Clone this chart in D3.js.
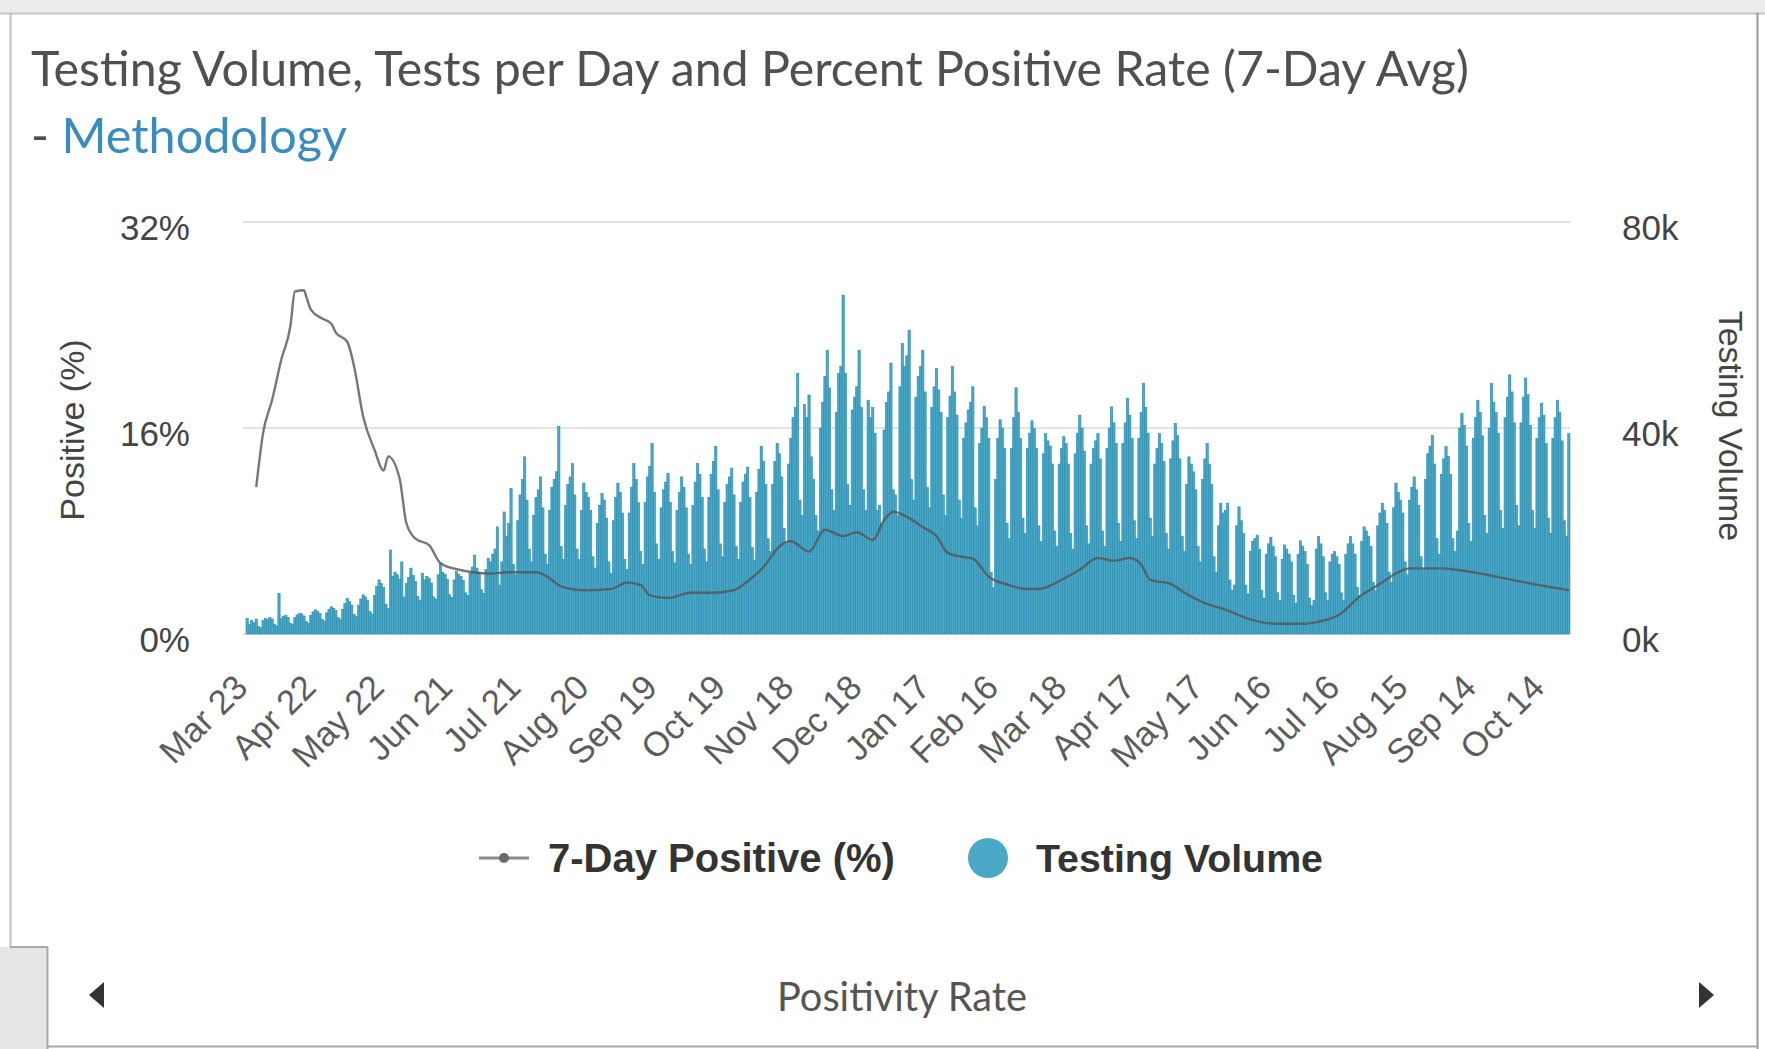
<!DOCTYPE html>
<html><head><meta charset="utf-8">
<script src="https://cdn.jsdelivr.net/npm/d3@7"></script>
<style>html,body{margin:0;padding:0;background:#fff;overflow:hidden}svg{display:block}</style>
</head><body>
<svg id="c" width="1765" height="1049"></svg>
<script>
// ---------------- DATA ----------------
const startDate = "2020-03-23"; // first day (index 0)
const tickDays = [0,30,60,90,120,150,180,210,240,270,300,330,360,390,420,450,480,510,540,570];
const tickLabels = ["Mar 23","Apr 22","May 22","Jun 21","Jul 21","Aug 20","Sep 19","Oct 19","Nov 18","Dec 18","Jan 17","Feb 16","Mar 18","Apr 17","May 17","Jun 16","Jul 16","Aug 15","Sep 14","Oct 14"];
const leftTicks = [0,16,32];
const rightTicks = [0,40,80];
// daily testing volume, thousands of tests (one row per week, Mon..Sun)
const testVolumeK = [
3.0,1.8,2.6,2.2,2.9,1.5,1.2,
2.6,3.0,2.8,3.2,2.9,1.9,1.6,
7.9,3.1,3.4,3.6,3.2,2.1,1.9,
3.2,3.7,4.0,3.9,3.5,2.4,2.1,
3.6,4.3,4.7,4.4,4.0,2.8,2.5,
4.1,4.8,5.3,5.0,4.6,3.2,2.8,
4.8,5.9,6.9,6.3,5.6,3.8,3.4,
5.5,6.8,7.6,7.2,6.5,4.4,3.9,
7.5,9.2,10.5,9.8,9.0,5.8,5.0,
16.3,11.2,12.0,11.5,10.6,14.0,7.2,
9.8,11.0,12.8,11.4,10.2,7.3,6.6,
11.8,10.5,11.2,10.8,9.9,7.2,6.8,
11.5,13.8,12.0,11.6,10.6,7.6,7.1,
10.5,12.1,11.6,11.2,10.4,8.0,7.5,
11.8,13.0,15.3,12.8,12.0,8.6,7.9,
12.5,14.7,14.0,15.5,16.5,20.8,9.5,
14.0,23.7,19.0,21.5,28.3,13.5,11.5,
22.0,27.0,30.0,34.4,26.0,16.5,14.0,
23.0,26.5,28.0,30.5,24.5,15.5,13.5,
24.0,28.5,30.0,31.5,40.3,17.0,14.5,
25.0,29.0,30.5,33.1,27.0,16.5,14.5,
24.0,29.3,27.5,26.5,24.0,15.0,12.8,
21.5,25.0,27.3,26.0,22.5,14.0,11.8,
22.0,26.5,29.3,27.5,23.5,14.5,12.5,
23.5,28.5,33.1,30.0,25.5,16.0,13.5,
25.5,30.5,32.5,37.0,27.5,17.5,14.5,
24.5,28.0,29.5,31.2,25.5,16.0,13.8,
24.0,27.5,30.5,28.5,24.5,15.5,13.5,
25.0,29.5,33.1,31.0,26.5,16.5,14.0,
26.5,31.0,33.5,36.4,28.0,17.5,15.0,
25.5,29.0,30.5,32.2,27.0,17.0,14.5,
25.5,29.5,31.0,32.4,26.5,16.8,14.3,
27.5,32.0,36.4,33.5,29.0,18.5,16.0,
29.0,33.5,37.0,35.0,30.5,20.5,17.5,
33.0,38.0,42.0,44.0,50.6,26.0,23.0,
44.6,42.0,46.4,34.4,30.0,23.0,20.0,
40.0,45.0,50.0,55.1,47.8,28.0,24.0,
43.0,50.6,52.0,65.8,50.6,29.0,25.0,
43.5,46.0,48.0,55.1,44.0,28.0,24.0,
45.4,42.0,44.0,39.0,24.0,25.0,21.5,
39.6,45.0,47.0,52.6,28.0,27.0,23.0,
48.0,56.4,52.0,54.0,59.0,30.0,26.0,
46.0,50.0,52.0,55.1,47.0,28.5,24.5,
44.0,48.0,51.6,47.4,43.0,27.0,23.0,
42.0,46.2,52.0,47.0,42.5,26.0,22.5,
38.0,41.0,43.5,45.0,48.0,24.5,21.0,
37.0,40.0,44.2,42.0,38.0,12.0,9.0,
30.0,38.0,41.6,40.0,36.0,21.5,18.5,
36.0,42.0,47.8,43.0,38.0,22.5,19.5,
36.0,39.0,41.4,39.9,36.0,21.0,18.0,
35.0,38.9,37.5,36.5,33.0,20.0,17.0,
33.0,36.0,38.3,37.0,33.0,19.5,16.5,
35.0,39.0,42.5,40.0,35.5,21.0,17.5,
33.0,36.0,37.5,38.9,34.0,20.0,17.0,
36.0,40.0,44.1,41.0,37.0,21.5,18.0,
37.0,41.0,45.8,42.5,38.0,22.0,18.5,
38.0,43.0,48.7,44.0,39.0,22.5,19.0,
33.0,36.0,38.9,37.0,33.5,19.5,16.5,
34.0,37.5,40.9,38.5,34.0,19.0,16.0,
29.0,34.4,33.0,31.5,28.0,17.0,14.0,
30.0,34.0,37.0,33.0,29.0,15.0,12.0,
21.0,25.4,23.5,24.0,25.4,10.5,8.5,
9.5,21.0,24.7,22.0,19.5,9.5,7.8,
16.0,18.0,18.5,19.2,16.5,8.5,7.0,
15.5,17.5,18.8,17.0,15.0,8.0,6.5,
14.5,17.3,16.5,15.5,14.0,7.5,6.0,
15.5,18.1,17.0,16.0,13.5,7.0,5.5,
6.5,16.5,18.9,17.5,15.0,8.0,6.5,
14.0,15.5,16.0,15.0,13.5,8.0,6.5,
15.5,17.5,18.9,17.5,15.5,9.0,7.5,
18.0,20.8,20.0,19.0,17.0,10.0,8.5,
21.0,23.5,25.4,24.0,21.5,12.0,10.0,
24.5,29.3,27.5,26.0,23.5,14.0,11.5,
26.0,28.5,30.5,28.0,25.0,15.0,12.5,
30.0,35.0,36.5,38.6,33.0,18.5,15.5,
31.0,34.0,36.4,34.5,31.0,18.5,16.0,
20.0,40.0,42.8,40.5,36.5,21.5,18.0,
38.0,42.0,45.4,43.0,38.5,23.0,19.5,
40.0,48.7,45.0,43.0,39.0,24.0,20.5,
42.0,46.0,50.3,47.0,41.0,25.0,21.0,
41.0,46.0,49.7,46.5,40.5,24.0,20.5,
38.0,42.0,44.8,42.5,37.0,22.5,19.5,
38.0,42.0,45.4,43.0,37.5,22.0,19.0,
38.9
];
// 7-day positive rate (%) read at these day indexes
const positiveDay = [4,7,11,15,19,21,25,26,28,33,37,39,44,47,51,56,60,62,67,70,74,80,85,93,99,107,115,127,132,138,148,160,167,173,177,185,195,204,214,220,227,234,239,247,254,262,268,275,280,284,290,297,303,308,314,319,326,335,342,348,358,366,374,381,388,393,397,406,412,421,430,440,452,465,471,480,489,498,505,511,524,533,545,556,568,581];
const positiveRate = [11.4,15.6,18.2,21.3,23.9,26.6,26.7,26.2,25.2,24.5,24.1,23.4,22.7,20.8,16.9,14.3,12.7,13.8,12.1,8.6,7.4,6.9,5.5,5.0,4.8,4.7,4.8,4.8,4.45,3.7,3.4,3.5,4.0,3.8,3.0,2.8,3.2,3.2,3.4,4.1,5.2,6.8,7.2,6.4,8.1,7.6,7.9,7.3,8.85,9.5,9.1,8.3,7.6,6.3,6.0,5.85,4.45,3.8,3.5,3.5,4.2,5.0,5.9,5.7,5.9,5.4,4.2,3.9,3.2,2.4,1.9,1.2,0.8,0.8,0.96,1.5,2.9,3.9,4.7,5.1,5.1,4.95,4.6,4.2,3.8,3.4];

// ---------------- DRAW ----------------
const svg = d3.select("#c");
const AX = "'Liberation Sans', Arial, sans-serif";
const AV = "Lato, 'Open Sans', sans-serif";
function fit(sel, target){
  const w = sel.node().getComputedTextLength();
  const fs = parseFloat(sel.attr("font-size"));
  sel.attr("font-size", (fs*target/w).toFixed(2));
}

// frame
svg.append("rect").attr("x",0).attr("y",0).attr("width",1765).attr("height",13).attr("fill","#ececec");
svg.append("line").attr("x1",0).attr("x2",1765).attr("y1",13.5).attr("y2",13.5).attr("stroke","#c4c4c4").attr("stroke-width",2);
svg.append("line").attr("x1",10.5).attr("x2",10.5).attr("y1",13).attr("y2",947).attr("stroke","#bdbdbd").attr("stroke-width",2);
svg.append("line").attr("x1",1757.5).attr("x2",1757.5).attr("y1",13).attr("y2",1049).attr("stroke","#9a9a9a").attr("stroke-width",2);
svg.append("rect").attr("x",0).attr("y",947).attr("width",47).attr("height",102).attr("fill","#e6e6e6");
svg.append("line").attr("x1",10).attr("x2",48).attr("y1",947).attr("y2",947).attr("stroke","#a8a8a8").attr("stroke-width",2);
svg.append("line").attr("x1",47.5).attr("x2",47.5).attr("y1",947).attr("y2",1049).attr("stroke","#a8a8a8").attr("stroke-width",2);
svg.append("line").attr("x1",47).attr("x2",1758).attr("y1",1046.5).attr("y2",1046.5).attr("stroke","#a8a8a8").attr("stroke-width",2);

// title
const t1 = svg.append("text").attr("x",31).attr("y",86).attr("font-family",AV).attr("font-size",44).attr("fill","#505050")
  .text("Testing Volume, Tests per Day and Percent Positive Rate (7-Day Avg)");
fit(t1,1438);
const t2 = svg.append("text").attr("x",31).attr("y",153).attr("font-family",AV).attr("font-size",44);
t2.append("tspan").attr("fill","#505050").text("- ");
t2.append("tspan").attr("fill","#3a8cc0").text("Methodology");
fit(t2,316);

// scales
const x = d3.scaleBand().domain(d3.range(testVolumeK.length)).range([246,1570]).padding(0);
const yL = d3.scaleLinear().domain([0,32]).range([634,222]);
const yR = d3.scaleLinear().domain([0,80]).range([634,222]);

// grid
svg.append("g").selectAll("line").data(leftTicks).join("line")
  .attr("x1",243).attr("x2",1570).attr("y1",d=>yL(d)).attr("y2",d=>yL(d))
  .attr("stroke","#e3e3e3").attr("stroke-width",2);

// bars
svg.append("g").selectAll("rect").data(testVolumeK).join("rect")
  .attr("x",(d,i)=>x(i)).attr("width",x.bandwidth())
  .attr("y",d=>yR(d)).attr("height",d=>yR(0)-yR(d))
  .attr("fill","#4aa8c7").attr("stroke","#2a8aad").attr("stroke-width",0.6);

// line
const line = d3.line().x((d,i)=>x(positiveDay[i])+x.bandwidth()/2).y(d=>yL(d)).curve(d3.curveMonotoneX);
svg.append("path").datum(positiveRate).attr("d",line).attr("fill","none")
  .attr("stroke","#555").attr("stroke-opacity",0.8).attr("stroke-width",2.4);

// axes
const gl = svg.append("g").attr("transform","translate(190,6)")
  .call(d3.axisLeft(yL).tickValues(leftTicks).tickFormat(d=>d+"%").tickSize(0).tickPadding(0));
const gr = svg.append("g").attr("transform","translate(1622,6)")
  .call(d3.axisRight(yR).tickValues(rightTicks).tickFormat(d=>d+"k").tickSize(0).tickPadding(0));
[gl,gr].forEach(g=>{
  g.select(".domain").remove();
  g.selectAll("text").attr("font-family",AX).attr("font-size",35).attr("fill","#444");
});
const gb = svg.append("g").attr("transform","translate(0,681)")
  .call(d3.axisBottom(x).tickValues(tickDays).tickFormat((d,i)=>tickLabels[i]).tickSize(0));
gb.select(".domain").remove();
gb.selectAll("text").attr("x",0).attr("y",0).attr("dy","0.35em")
  .attr("transform","translate(-6,0) rotate(-45)").attr("text-anchor","end")
  .attr("font-family",AX).attr("font-size",34.5).attr("fill","#5c5c5c");

// axis titles
svg.append("text").attr("transform","translate(72,430) rotate(-90)").attr("text-anchor","middle")
  .attr("dominant-baseline","central").attr("font-family",AX).attr("font-size",34).attr("fill","#444").text("Positive (%)");
svg.append("text").attr("transform","translate(1731,426) rotate(90)").attr("text-anchor","middle")
  .attr("dominant-baseline","central").attr("font-family",AX).attr("font-size",34).attr("fill","#444").text("Testing Volume");

// legend
svg.append("line").attr("x1",479).attr("x2",529).attr("y1",858).attr("y2",858).attr("stroke","#8a8a8a").attr("stroke-width",3);
svg.append("circle").attr("cx",504).attr("cy",858).attr("r",5).attr("fill","#6a6a6a");
const l1 = svg.append("text").attr("x",548).attr("y",858).attr("dominant-baseline","central").attr("font-family",AX)
  .attr("font-weight","bold").attr("font-size",39).attr("fill","#333").text("7-Day Positive (%)");
fit(l1,347);
svg.append("circle").attr("cx",988).attr("cy",858).attr("r",20).attr("fill","#4aa8c7");
const l2 = svg.append("text").attr("x",1036).attr("y",858).attr("dominant-baseline","central").attr("font-family",AX)
  .attr("font-weight","bold").attr("font-size",39).attr("fill","#333").text("Testing Volume");
fit(l2,287);

// bottom tab bar
svg.append("path").attr("d","M104,982 L89,995 L104,1008 Z").attr("fill","#333");
svg.append("path").attr("d","M1699,982 L1714,995 L1699,1008 Z").attr("fill","#333");
const pr = svg.append("text").attr("x",902).attr("y",995).attr("text-anchor","middle").attr("dominant-baseline","central")
  .attr("font-family",AV).attr("font-size",36).attr("fill","#555").text("Positivity Rate");
fit(pr,250);
</script>
</body></html>
